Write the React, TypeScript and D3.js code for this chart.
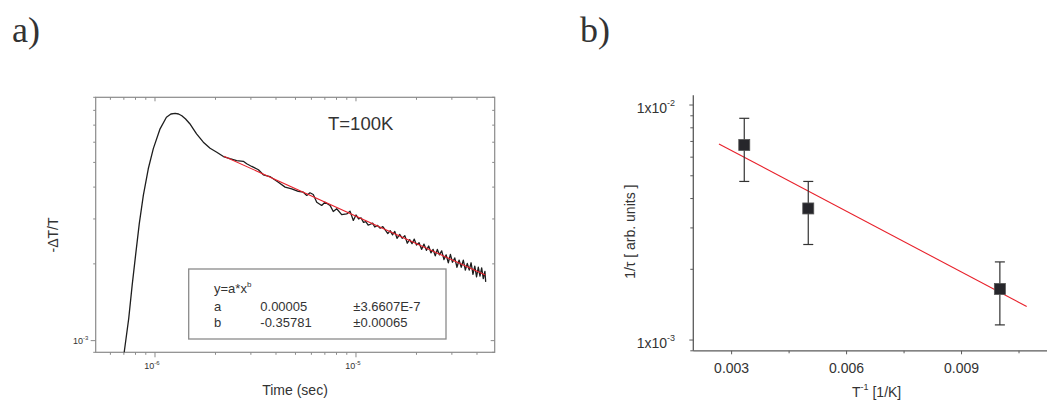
import React from "react";
import * as d3 from "d3";

// ---- panel a) : transient signal, time in microseconds, -dT/T in units of 1e-3
const timeUs = [
  0.7, 0.74, 0.77, 0.8, 0.835, 0.875, 0.926, 0.981, 1.06, 1.14, 1.2, 1.26, 1.31, 1.36, 1.42, 1.49,
  1.55, 1.61, 1.74, 1.88, 2.03, 2.19, 2.36, 2.55, 2.75, 2.86, 3.03, 3.27, 3.46, 3.73, 4.11, 4.44,
  4.79, 5.16, 5.47, 5.69, 5.9, 6.13, 6.38, 6.75, 7.01, 7.43, 7.71, 8.02, 8.49, 8.99, 9.34, 9.7,
  10.0, 10.3, 10.6, 10.9, 11.2, 11.5, 11.8, 12.1, 12.4, 12.8, 13.2, 13.6, 14.0, 14.4, 14.8, 15.2,
  15.6, 16.0, 16.5, 17.0, 17.5, 18.0, 18.5, 19.0, 19.5, 20.0, 20.6, 21.2, 21.8, 22.4, 23.0, 23.6,
  24.2, 24.8, 25.4, 26.0, 26.7, 27.4, 28.1, 28.8, 29.5, 30.2, 31.0, 31.8, 32.6, 33.4, 34.2, 35.0,
  35.8, 36.6, 37.4, 38.2, 39.0, 39.8, 40.6, 41.4, 42.2, 43.0, 43.8, 44.2,
];
const signal = [
  0.88, 1.22, 1.65, 2.15, 2.87, 3.71, 4.72, 5.66, 6.77, 7.52, 7.74, 7.78, 7.74, 7.62, 7.4, 7.09,
  6.77, 6.47, 6.0, 5.68, 5.48, 5.27, 5.17, 5.08, 5.05, 4.94, 4.82, 4.68, 4.47, 4.4, 4.18, 4.0,
  3.94, 3.85, 3.82, 3.71, 3.8, 3.74, 3.49, 3.39, 3.49, 3.39, 3.21, 3.29, 3.12, 3.14, 3.22, 2.96,
  3.11, 3.0, 3.03, 2.91, 2.93, 2.84, 2.86, 2.89, 2.79, 2.83, 2.76, 2.8, 2.71, 2.63, 2.7, 2.6,
  2.68, 2.52, 2.61, 2.52, 2.58, 2.41, 2.49, 2.4, 2.5, 2.37, 2.42, 2.28, 2.39, 2.26, 2.35, 2.21,
  2.28, 2.15, 2.28, 2.17, 2.25, 2.08, 2.17, 2.02, 2.18, 2.03, 2.11, 1.94, 2.07, 1.94, 2.07, 1.89,
  2.01, 1.89, 2.02, 1.82, 1.96, 1.78, 1.94, 1.79, 1.93, 1.75, 1.87, 1.7,
];
// power-law fit y = a*x^b, drawn between these end points
const fitTimeUs = [2.2, 44];
const fitSignal = [5.29, 1.81];
const fitRows = [
  ["a", "0.00005", "±3.6607E-7"],
  ["b", "-0.35781", "±0.00065"],
];

// ---- panel b) : rate vs inverse temperature
const invT = [0.00333, 0.005, 0.01];
const rate = [6.76e-3, 3.63e-3, 1.65e-3];
const rateHi = [8.78e-3, 4.73e-3, 2.15e-3];
const rateLo = [4.73e-3, 2.55e-3, 1.16e-3];
const lineInvT = [0.00267, 0.0107];
const lineRate = [6.83e-3, 1.39e-3];
const xTicksB = [0.003, 0.006, 0.009];
const xMinorB = [0.0045, 0.0075, 0.0105];

const FONT = "Arial, 'Liberation Sans', sans-serif";

const isDecade = (v: number) => Math.abs(Math.log10(v) - Math.round(Math.log10(v))) < 1e-6;

export default function App() {
  const xA = d3.scaleLog().domain([5.07e-7, 4.9e-5]).range([95.7, 494.7]);
  const yA = d3.scaleLog().domain([9e-4, 9e-3]).range([352.3, 97.3]);
  const [xa0, xa1] = xA.range();
  const [ya0, ya1] = yA.range();

  const curve = d3
    .line<number>()
    .x((d, i) => xA(timeUs[i] * 1e-6))
    .y((d) => yA(d * 1e-3))(signal) as string;
  const fitPath = d3
    .line<number>()
    .x((d, i) => xA(fitTimeUs[i] * 1e-6))
    .y((d) => yA(d * 1e-3))(fitSignal) as string;

  const xB = d3.scaleLinear().domain([0.002, 0.01123]).range([693.3, 1047]);
  const yB = d3.scaleLog().domain([9e-4, 1.1e-2]).range([350.8, 95.3]);
  const [xb0, xb1] = xB.range();
  const [yb0, yb1] = yB.range();
  const linePath = d3
    .line<number>()
    .x((d, i) => xB(lineInvT[i]))
    .y((d) => yB(d))(lineRate) as string;

  const frame = "#8a8a8a";
  const axisB = "#5a5a5a";
  const txt = "#333";

  return (
    <svg
      width={1047}
      height={401}
      style={{ position: "absolute", left: 0, top: 0, background: "#fff" }}
      fontFamily={FONT}
    >
      <defs>
        <clipPath id="clipA">
          <rect x={xa0} y={ya1} width={xa1 - xa0} height={ya0 - ya1} />
        </clipPath>
      </defs>

      {/* panel labels */}
      <text x={12} y={42} fontFamily="'Liberation Serif', 'Times New Roman', serif" fontSize={36} fill={txt}>
        a)
      </text>
      <text x={580} y={42} fontFamily="'Liberation Serif', 'Times New Roman', serif" fontSize={36} fill={txt}>
        b)
      </text>

      {/* ===== panel a ===== */}
      <g>
        <rect x={xa0} y={ya1} width={xa1 - xa0} height={ya0 - ya1} fill="none" stroke={frame} strokeWidth={1.2} />
        {xA.ticks().map((t, i) => {
          const x = xA(t);
          const major = isDecade(t);
          return (
            <g key={"xa" + i} stroke={frame} strokeWidth={1}>
              <line x1={x} x2={x} y1={ya0} y2={ya0 + (major ? 5 : 2.5)} />
              <line x1={x} x2={x} y1={ya1} y2={ya1 + (major ? 4 : 2.5)} />
            </g>
          );
        })}
        {yA.ticks().map((t, i) => {
          const y = yA(t);
          const major = isDecade(t);
          return (
            <g key={"ya" + i} stroke={frame} strokeWidth={1}>
              <line x1={xa0} x2={xa0 - (major ? 5 : 2.5)} y1={y} y2={y} />
              <line x1={xa1} x2={xa1 - (major ? 4 : 2.5)} y1={y} y2={y} />
            </g>
          );
        })}
        {[1e-6, 1e-5].map((t) => (
          <text key={"xl" + t} x={xA(t) - 3} y={369} fontSize={9} fill={txt} textAnchor="middle">
            10
            <tspan fontSize={6} dy={-4}>
              {Math.log10(t).toFixed(0)}
            </tspan>
          </text>
        ))}
        <text x={xa0 - 15} y={yA(1e-3) + 3.5} fontSize={9} fill={txt} textAnchor="middle">
          10
          <tspan fontSize={6} dy={-4}>
            -3
          </tspan>
        </text>
        <text x={295} y={395} fontSize={14} fill={txt} textAnchor="middle">
          Time (sec)
        </text>
        <text transform="translate(58,235) rotate(-90)" fontSize={14} fill={txt} textAnchor="middle">
          -ΔT/T
        </text>

        <g clipPath="url(#clipA)">
          <path d={curve} fill="none" stroke="#1e1e1e" strokeWidth={1.3} strokeLinejoin="round" />
          <path d={fitPath} fill="none" stroke="#e8212b" strokeWidth={1.1} />
        </g>

        <text x={328} y={129.5} fontSize={18.5} fill={txt}>
          T=100K
        </text>

        {/* fit legend */}
        <rect x={188.7} y={269} width={257.3} height={70} fill="#fff" stroke={frame} strokeWidth={1.3} />
        <text x={214} y={292.5} fontSize={13} fill={txt}>
          y=a*x
          <tspan fontSize={8} dy={-6}>
            b
          </tspan>
        </text>
        {fitRows.map((r, i) => (
          <g key={"fr" + i} fontSize={13} fill={txt}>
            <text x={214} y={310.7 + i * 16.7}>
              {r[0]}
            </text>
            <text x={260.3} y={310.7 + i * 16.7}>
              {r[1]}
            </text>
            <text x={353.3} y={310.7 + i * 16.7}>
              {r[2]}
            </text>
          </g>
        ))}
      </g>

      {/* ===== panel b ===== */}
      <g>
        <line x1={xb0} x2={xb0} y1={yb1} y2={yb0} stroke={axisB} strokeWidth={1.3} />
        <line x1={xb0} x2={xb1} y1={yb0} y2={yb0} stroke={axisB} strokeWidth={1.3} />
        {yB.ticks().map((t, i) => {
          const y = yB(t);
          const major = isDecade(t);
          return (
            <line key={"yb" + i} x1={xb0} x2={xb0 - (major ? 4 : 3)} y1={y} y2={y} stroke={axisB} strokeWidth={1} />
          );
        })}
        {[1e-2, 1e-3].map((t) => (
          <text key={"ybl" + t} x={675} y={yB(t) + 8} fontSize={14} fill={txt} textAnchor="end">
            1x10
            <tspan fontSize={9} dy={-7}>
              {Math.log10(t).toFixed(0)}
            </tspan>
          </text>
        ))}
        {xTicksB.map((t) => (
          <g key={"xb" + t}>
            <line x1={xB(t)} x2={xB(t)} y1={yb0} y2={yb0 + 3.5} stroke={axisB} strokeWidth={1} />
            <text x={xB(t)} y={373} fontSize={14} fill={txt} textAnchor="middle">
              {t.toFixed(3)}
            </text>
          </g>
        ))}
        {xMinorB.map((t) => (
          <line key={"xbm" + t} x1={xB(t)} x2={xB(t)} y1={yb0} y2={yb0 + 2.5} stroke={axisB} strokeWidth={1} />
        ))}
        <text x={852} y={397} fontSize={14} fill={txt}>
          T
          <tspan fontSize={9} dy={-7}>
            -1
          </tspan>
          <tspan dy={7}> [1/K]</tspan>
        </text>
        <text transform="translate(635,231.7) rotate(-90)" fontSize={14} fill={txt} textAnchor="middle">
          1/τ [ arb. units ]
        </text>

        <path d={linePath} fill="none" stroke="#e8212b" strokeWidth={1.1} />

        {invT.map((v, i) => {
          const x = xB(v);
          return (
            <g key={"pt" + i} stroke="#333" strokeWidth={1.2}>
              <line x1={x} x2={x} y1={yB(rateHi[i])} y2={yB(rateLo[i])} />
              <line x1={x - 5} x2={x + 5} y1={yB(rateHi[i])} y2={yB(rateHi[i])} />
              <line x1={x - 5} x2={x + 5} y1={yB(rateLo[i])} y2={yB(rateLo[i])} />
              <rect x={x - 5.5} y={yB(rate[i]) - 5.5} width={11} height={11} fill="#26262b" stroke="#555" strokeWidth={0.8} />
            </g>
          );
        })}
      </g>
    </svg>
  );
}
